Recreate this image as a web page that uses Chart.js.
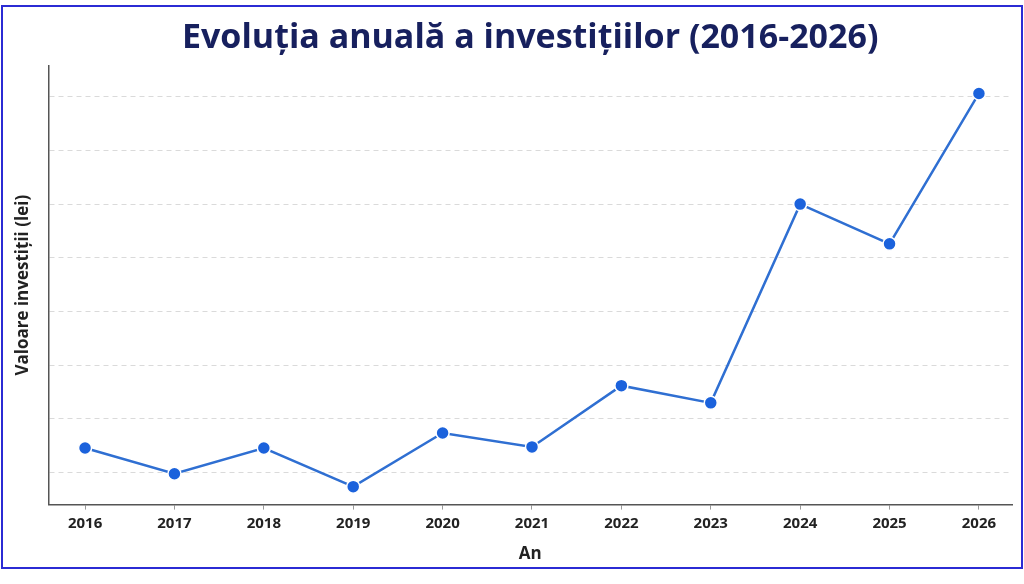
<!DOCTYPE html>
<html>
<head>
<meta charset="utf-8">
<script src="https://cdn.jsdelivr.net/npm/chart.js@4.4.1/dist/chart.umd.min.js"></script>
<style>
    html, body { margin: 0; padding: 0; background: #fff; }
    #wrap { position: relative; width: 1024px; height: 584px; }
    #frame {
        position: absolute; left: 1px; top: 5px; width: 1022px; height: 564px;
        box-sizing: border-box; border: 2px solid #2b2bd4; pointer-events: none;
    }
    canvas { position: absolute; left: 0; top: 0; }
</style>
</head>
<body>
<div id="wrap">
    <canvas id="lineChart" width="1024" height="584"></canvas>
    <div id="frame"></div>
</div>
<script>
// ani si valori investitii (lei)
const years = [2016, 2017, 2018, 2019, 2020, 2021, 2022, 2023, 2024, 2025, 2026];
const investments = [7300, 4900, 7300, 3700, 8700, 7400, 13100, 11500, 30000, 26300, 40300];
const yGridValues = [5000, 10000, 15000, 20000, 25000, 30000, 35000, 40000];
const yRange = [2030, 42875];
const xRange = [2015.59, 2026.37];

const chartTitle = 'Evoluția anuală a investițiilor (2016-2026)';
const xTitle = 'An';
const yTitle = 'Valoare investiții (lei)';

const Charts = {
    initialize: function() {
        this.createLineChart();
    },

    createLineChart: function() {
        let ctx = document.getElementById('lineChart').getContext('2d');
        const points = years.map((y, i) => ({ x: y, y: investments[i] }));

        window.lineChart = new Chart(ctx, {
            type: 'line',
            data: {
                datasets: [{
                    label: yTitle,
                    data: points,
                    borderColor: '#2f6fd2',
                    borderWidth: 2.5,
                    pointBackgroundColor: '#1b62dc',
                    pointBorderColor: '#ffffff',
                    pointBorderWidth: 1.5,
                    pointRadius: 6.5,
                    tension: 0
                }]
            },
            options: {
                responsive: false,
                animation: false,
                layout: { padding: { top: 14, left: 4, right: 12, bottom: 10 } },
                plugins: {
                    legend: { display: false },
                    tooltip: { enabled: false },
                    title: {
                        display: true,
                        fullSize: false,
                        text: chartTitle,
                        color: '#17205e',
                        font: { family: 'Open Sans', size: 34, weight: 'bold' },
                        padding: { top: 4, bottom: 7 }
                    }
                },
                scales: {
                    x: {
                        type: 'linear',
                        min: xRange[0],
                        max: xRange[1],
                        afterBuildTicks: scale => {
                            scale.ticks = years.map(v => ({ value: v }));
                        },
                        border: { color: '#555', width: 1.5 },
                        grid: { drawOnChartArea: false, color: '#999', tickLength: 5 },
                        ticks: {
                            maxRotation: 0,
                            autoSkip: false,
                            padding: 5,
                            color: '#222',
                            font: { family: 'Open Sans', size: 15, weight: 'bold' },
                            callback: v => String(v)
                        },
                        title: {
                            display: true,
                            text: xTitle,
                            color: '#222',
                            font: { family: 'Open Sans', size: 17, weight: 'bold' },
                            padding: { top: 6, bottom: 10 }
                        }
                    },
                    y: {
                        min: yRange[0],
                        max: yRange[1],
                        afterBuildTicks: scale => {
                            scale.ticks = yGridValues.map(v => ({ value: v }));
                        },
                        border: { color: '#555', width: 1.5, dash: [5, 4] },
                        grid: { color: '#dadada', lineWidth: 1, drawTicks: false },
                        ticks: { display: false },
                        title: {
                            display: true,
                            text: yTitle,
                            color: '#222',
                            font: { family: 'Open Sans', size: 17, weight: 'bold' },
                            padding: { top: 9, bottom: 15 }
                        }
                    }
                }
            }
        });
    }
};

document.addEventListener('DOMContentLoaded', function() {
    Charts.initialize();
});
</script>
</body>
</html>
